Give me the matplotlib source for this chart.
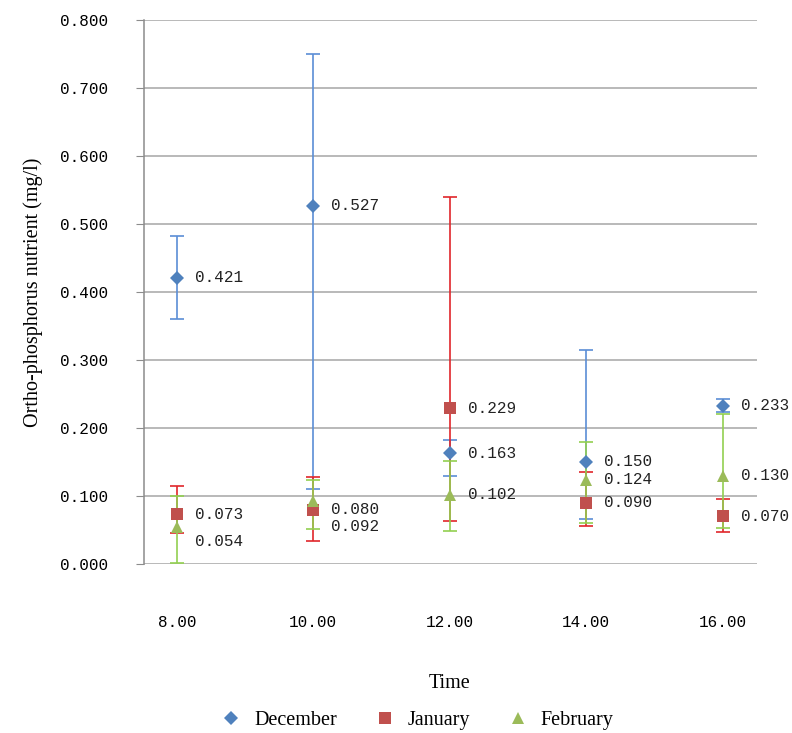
import matplotlib
matplotlib.use('Agg')
from matplotlib import pyplot as plt
import numpy as np

# data
times = [8, 10, 12, 14, 16]
tick_labels = ['8.00', '10.00', '12.00', '14.00', '16.00']

december = [0.421, 0.527, 0.163, 0.150, 0.233]
december_low = [0.360, 0.110, 0.130, 0.066, 0.224]
december_high = [0.482, 0.750, 0.183, 0.314, 0.242]

january = [0.073, 0.080, 0.229, 0.090, 0.070]
january_low = [0.045, 0.034, 0.063, 0.056, 0.047]
january_high = [0.115, 0.128, 0.539, 0.136, 0.096]

february = [0.054, 0.092, 0.102, 0.124, 0.130]
february_low = [0.002, 0.052, 0.049, 0.060, 0.053]
february_high = [0.100, 0.124, 0.152, 0.179, 0.220]

series = [
    ('December', december, december_low, december_high, 'D', '#4F81BD', '#5B8ED6', 7),
    ('January', january, january_low, january_high, 's', '#C0504D', '#E0262B', 9),
    ('February', february, february_low, february_high, '^', '#9BBB59', '#92D050', 9),
]

# vertical nudges (pixels) for labels that overlap in the original
label_shift = {('February', 8): -14, ('February', 10): -25}

plt.rcParams['font.family'] = ['Liberation Serif', 'DejaVu Serif']
num_font = 'Liberation Mono'

fig = plt.figure(figsize=(7.92, 7.33), dpi=100)
ax = fig.add_axes([144/792, 1-564/733, (757-144)/792, 544/733])

for name, vals, lo, hi, mk, col, ecol, ms in series:
    vals = np.array(vals)
    yerr = [vals - np.array(lo), np.array(hi) - vals]
    ax.errorbar(times, vals, yerr=yerr, fmt='none', ecolor=ecol, elinewidth=1.2,
                capsize=5, capthick=1.2, zorder=2)
    ax.plot(times, vals, linestyle='none', marker=mk, color=col, markersize=ms,
            markeredgewidth=0, label=name, zorder=3)
    for t, v in zip(times, vals):
        dy = label_shift.get((name, t), 0)
        ax.annotate('%.3f' % v, (t, v), xytext=(18, dy), textcoords='offset pixels',
                    va='center', ha='left', fontsize=11.5, family=num_font, color='#222222')

ax.set_xlim(7.52, 16.5)
ax.set_ylim(0, 0.8)
ax.set_yticks(np.arange(0, 0.81, 0.1))
ax.set_yticklabels(['%.3f' % v for v in np.arange(0, 0.81, 0.1)], family=num_font, fontsize=11.5)
ax.set_xticks(times)
ax.set_xticklabels(tick_labels, family=num_font, fontsize=11.5)
ax.tick_params(axis='x', length=0, pad=37)
ax.tick_params(axis='y', length=6, color='#8C8C8C', pad=20)

ax.grid(axis='y', color='#A6A6A6', linewidth=1.1)
ax.set_axisbelow(True)
for s in ['top', 'right', 'bottom']:
    ax.spines[s].set_visible(False)
ax.spines['left'].set_color('#8C8C8C')
ax.spines['left'].set_linewidth(1.1)

ax.set_ylabel('Ortho-phosphorus nutrient (mg/l)', fontsize=14.5, labelpad=12)
fig.text(450/792, 1-683/733, 'Time', ha='center', va='center', fontsize=14.5)

fig.legend(loc='center', bbox_to_anchor=(418/792, 1-720/733), ncol=3, frameon=False,
           fontsize=14.5, handlelength=0.9, handletextpad=0.7, columnspacing=1.9)

fig.savefig('out.png', dpi=100)
